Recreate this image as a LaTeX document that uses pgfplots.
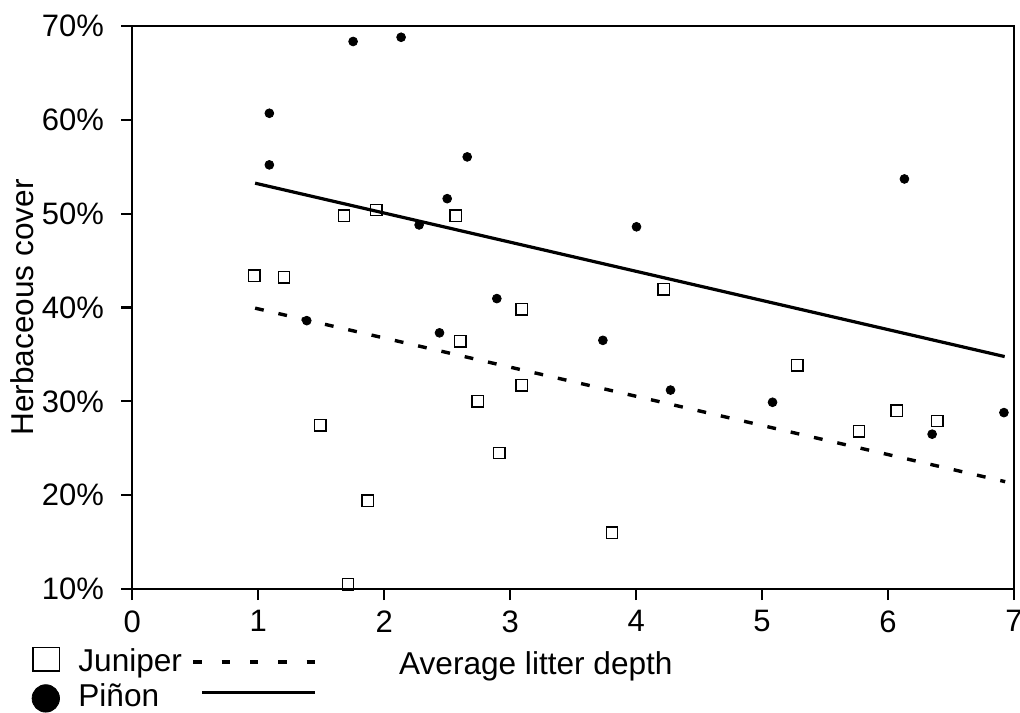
\documentclass[border=0pt]{standalone}
\usepackage{fontspec}
\setmainfont{Liberation Sans}
\usepackage{pgfplots}
\pgfplotsset{compat=1.18}

\pgfplotstableread{
x y
0.969 43.4
1.205 43.2
1.681 49.8
1.936 50.4
2.569 49.8
2.603 36.4
1.491 27.45
2.743 30.0
2.915 24.5
1.870 19.4
1.713 10.5
3.093 39.8
3.093 31.7
3.808 16.0
4.218 41.95
5.280 33.85
5.770 26.8
6.070 29.0
6.390 27.9
}\juniper

\pgfplotstableread{
x y
1.088 60.7
1.088 55.2
1.753 68.35
2.134 68.8
1.385 38.6
2.277 48.8
2.500 51.6
2.659 56.05
2.439 37.3
2.894 40.95
3.736 36.5
4.003 48.6
4.273 31.2
5.083 29.9
6.130 53.7
6.350 26.5
6.920 28.8
}\pinon

\begin{document}
\begin{tikzpicture}
\begin{axis}[
  at={(66.15pt,61.5pt)}, anchor=south west,
  scale only axis, width=440.85pt, height=281.5pt,
  xmin=0, xmax=7, ymin=10, ymax=70,
  xtick={0,1,2,3,4,5,6,7},
  ytick={10,20,30,40,50,60,70},
  yticklabel={\pgfmathprintnumber{\tick}\%},
  /pgf/number format/assume math mode=true,
  tick align=outside, tick pos=left,
  major tick length=5.5pt,
  axis line style={line width=1.1pt},
  every tick/.style={line width=1.1pt, black},
  ticklabel style={font=\fontsize{15.5}{18}\selectfont, inner sep=0pt},
  xticklabel style={anchor=north, yshift=-5pt},
  yticklabel style={anchor=east, xshift=-8.5pt},
  xlabel={Average litter depth},
  ylabel={Herbaceous cover},
  label style={font=\fontsize{15.8}{19}\selectfont},
  xlabel style={at={(axis description cs:0.4577,-0.151)}, anchor=base, inner sep=0pt},
  ylabel style={at={(axis description cs:-0.1123,0.5)}, anchor=base, rotate=0, inner sep=0pt},
  clip=false,
  legend columns=2,
  legend cell align=left,
  legend style={draw=none, fill=none, inner sep=0pt, outer sep=0pt,
    at={(axis description cs:-0.1141,-0.0953)}, anchor=north west,
    font=\fontsize{15.8}{19}\selectfont,
    nodes={inner sep=0pt, text height=14.4pt, text depth=3.1pt},
    row sep=0pt, column sep=0pt},
]
\addplot[only marks, mark=square, mark size=2.85pt, mark options={line width=0.7pt, black}, forget plot] table[x=x,y=y] {\juniper};
\addplot[only marks, mark=*, mark size=2.2pt, mark options={black, fill=black}, forget plot] table[x=x,y=y] {\pinon};
\addplot[black, line width=1.7pt, line cap=butt, dash pattern=on 4.4pt off 7.55pt, forget plot] coordinates {(0.975,39.93) (6.93,21.44)};
\addplot[black, line width=1.6pt, forget plot] coordinates {(0.975,53.25) (6.926,34.77)};

\addlegendimage{legend image code/.code={
  \path[draw=none, fill=none] (0pt,-8.825pt) rectangle (23.15pt,8.825pt);
  \draw[black, fill=none, line width=0.85pt] (0.425pt,-5.275pt) rectangle (13.725pt,6.375pt);}}
\addlegendentry{Juniper}
\addlegendimage{legend image code/.code={
  \path[draw=none, fill=none] (0pt,-8.825pt) rectangle (66.7pt,8.825pt);
  \draw[black, line width=1.8pt, line cap=butt, dash pattern=on 4.15pt off 10pt] (5.7pt,-0.85pt) -- (66.7pt,-0.85pt);}}
\addlegendentry{\mbox{}}
\addlegendimage{legend image code/.code={
  \path[draw=none, fill=none] (0pt,-8.825pt) rectangle (23.15pt,8.825pt);
  \fill[black] (6.85pt,-1.4pt) circle (6.85pt);}}
\addlegendentry{Piñon}
\addlegendimage{legend image code/.code={
  \path[draw=none, fill=none] (0pt,-8.825pt) rectangle (66.7pt,8.825pt);
  \draw[black, line width=1.65pt] (10.05pt,1.4pt) -- (66.7pt,1.4pt);}}
\addlegendentry{\mbox{}}
\end{axis}
\pgfresetboundingbox
\useasboundingbox (0pt,0pt) rectangle (510pt,356pt);
\end{tikzpicture}
\end{document}
